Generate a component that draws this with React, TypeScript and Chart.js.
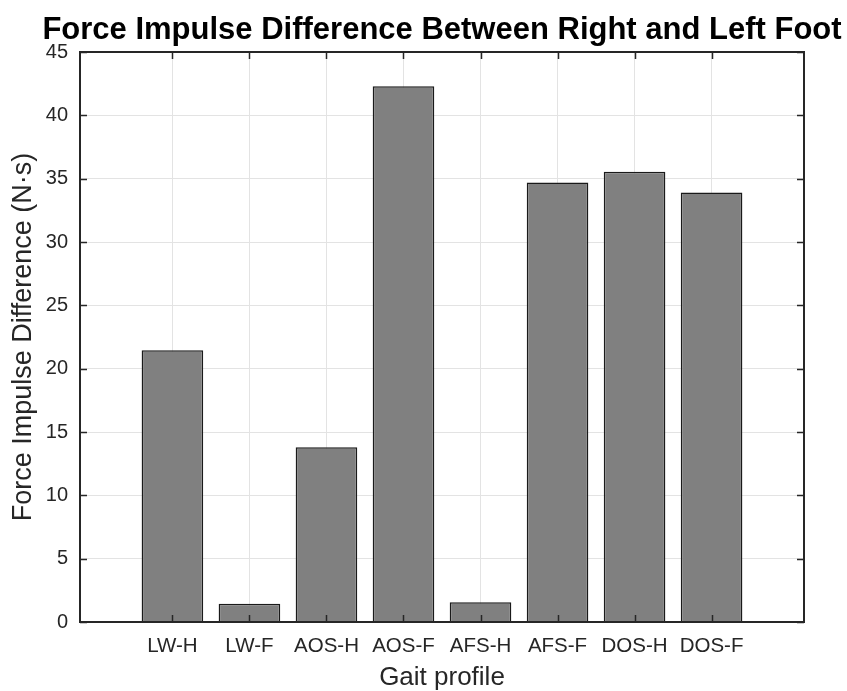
import React, { useEffect, useRef } from "react";
import { Chart, registerables } from "chart.js";

Chart.register(...registerables);

const TITLE = "Force Impulse Difference Between Right and Left Foot";
const X_LABEL = "Gait profile";
const Y_LABEL = "Force Impulse Difference (N·s)";
const CATEGORIES = ["LW-H", "LW-F", "AOS-H", "AOS-F", "AFS-H", "AFS-F", "DOS-H", "DOS-F"];
const VALUES = [21.45, 1.45, 13.8, 42.3, 1.55, 34.7, 35.55, 33.9];
const X_POSITIONS = [1, 2, 3, 4, 5, 6, 7, 8];
const Y_TICKS = [0, 5, 10, 15, 20, 25, 30, 35, 40, 45];

const FONT = "'Liberation Sans', Arial, Helvetica, sans-serif";

const titleCenterPlugin = {
  id: "titleCenter",
  afterLayout(chart: any) {
    const tb = chart.titleBlock;
    const a = chart.chartArea;
    if (tb && a) {
      const cx = (a.left + a.right) / 2;
      const half = 430;
      tb.left = cx - half;
      tb.right = cx + half;
      tb.width = half * 2;
    }
  },
};

const framePlugin = {
  id: "frame",
  afterDraw(chart: any) {
    const { ctx, chartArea: a, scales } = chart;
    const xs = scales.x;
    const ys = scales.y;
    const L = 7;
    ctx.save();
    ctx.strokeStyle = "#262626";
    ctx.lineWidth = 1.5;
    ctx.beginPath();
    for (const v of X_POSITIONS) {
      const px = Math.round(xs.getPixelForValue(v)) + 0.5;
      ctx.moveTo(px, a.bottom);
      ctx.lineTo(px, a.bottom - L);
      ctx.moveTo(px, a.top);
      ctx.lineTo(px, a.top + L);
    }
    for (const v of Y_TICKS) {
      const py = Math.round(ys.getPixelForValue(v)) + 0.5;
      ctx.moveTo(a.left, py);
      ctx.lineTo(a.left + L, py);
      ctx.moveTo(a.right, py);
      ctx.lineTo(a.right - L, py);
    }
    ctx.stroke();
    ctx.lineWidth = 2;
    ctx.strokeRect(a.left, a.top, a.right - a.left, a.bottom - a.top);
    ctx.restore();
  },
};

export default function App() {
  const ref = useRef<HTMLCanvasElement | null>(null);

  useEffect(() => {
    document.body.style.margin = "0";
    const canvas = ref.current;
    if (!canvas) return;
    const chart = new Chart(canvas, {
      type: "bar",
      data: {
        datasets: [
          {
            data: VALUES.map((v, i) => ({ x: X_POSITIONS[i], y: v })),
            backgroundColor: "#808080",
            borderColor: "#1a1a1a",
            borderWidth: 1.5,
            barPercentage: 0.8,
            categoryPercentage: 1.0,
          },
        ],
      },
      options: {
        responsive: false,
        animation: false,
        devicePixelRatio: 1,
        layout: { padding: { left: 0, right: 43, top: 0, bottom: 0 } },
        plugins: {
          legend: { display: false },
          tooltip: { enabled: false },
          title: {
            display: true,
            text: TITLE,
            fullSize: false,
            color: "#000000",
            font: { family: FONT, size: 31, weight: "bold", lineHeight: 1.2 },
            padding: { top: 12, bottom: 2.8 },
          },
        },
        scales: {
          x: {
            type: "linear",
            min: -0.2,
            max: 9.2,
            offset: false,
            afterBuildTicks: (scale: any) => {
              scale.ticks = X_POSITIONS.map((v) => ({ value: v }));
            },
            afterFit: (scale: any) => {
              scale.height = 69;
            },
            ticks: {
              autoSkip: false,
              maxRotation: 0,
              padding: 12,
              color: "#262626",
              font: { family: FONT, size: 20.5 },
              callback: (v: any) => CATEGORIES[Number(v) - 1] ?? "",
            },
            grid: { color: "#e3e3e3", drawTicks: false, lineWidth: 1, offset: false },
            border: { display: false },
            title: {
              display: true,
              text: X_LABEL,
              color: "#262626",
              font: { family: FONT, size: 26, lineHeight: 1 },
              padding: { top: 0, bottom: 0 },
            },
          },
          y: {
            type: "linear",
            min: 0,
            max: 45,
            afterFit: (scale: any) => {
              scale.width = 80;
            },
            ticks: {
              stepSize: 5,
              padding: 12,
              color: "#262626",
              font: { family: FONT, size: 20 },
            },
            grid: { color: "#e3e3e3", drawTicks: false, lineWidth: 1 },
            border: { display: false },
            title: {
              display: true,
              text: Y_LABEL,
              color: "#262626",
              font: { family: FONT, size: 27, lineHeight: 1 },
              padding: { top: 10, bottom: 0 },
            },
          },
        },
      },
      plugins: [titleCenterPlugin, framePlugin],
    });
    return () => chart.destroy();
  }, []);

  return (
    <div style={{ width: 847, height: 691, background: "#ffffff" }}>
      <canvas ref={ref} width={847} height={691} style={{ width: 847, height: 691, display: "block" }} />
    </div>
  );
}
